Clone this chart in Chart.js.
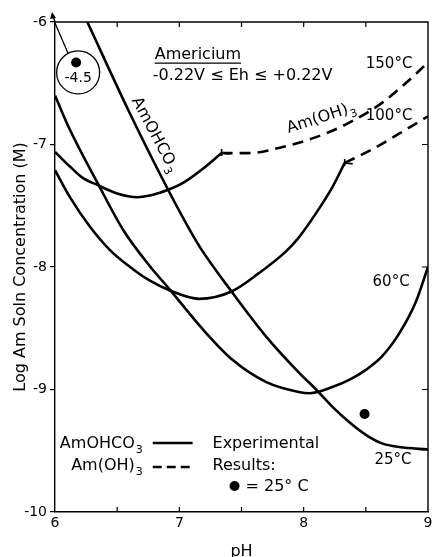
<!DOCTYPE html>
<html>
<head>
<meta charset="utf-8">
<script src="https://cdn.jsdelivr.net/npm/chart.js@4.4.0/dist/chart.umd.min.js"></script>
<style>
  html, body { margin: 0; padding: 0; background: #fff; }
  #wrap { width: 433px; height: 557px; }
</style>
</head>
<body>
<div id="wrap"><canvas id="chart" width="433" height="557"></canvas></div>
<script>
// AmOHCO3 solubility curves (solid), pH vs log Am concentration
const ph25 = [6.26, 6.59, 6.92, 7.08, 7.18, 7.42, 7.70, 7.96, 8.10, 8.23, 8.37, 8.50, 8.63, 8.77, 9.0];
const logAm25 = [-6.0, -6.72, -7.39, -7.69, -7.86, -8.20, -8.57, -8.86, -9.0, -9.14, -9.27, -9.37, -9.44, -9.47, -9.49];

const ph60 = [6.0, 6.12, 6.34, 6.55, 6.76, 6.92, 7.19, 7.43, 7.70, 7.96, 8.05, 8.23, 8.37, 8.50, 8.63, 8.77, 8.90, 9.0];
const logAm60 = [-6.60, -6.88, -7.31, -7.70, -7.99, -8.18, -8.51, -8.76, -8.94, -9.02, -9.03, -8.98, -8.92, -8.84, -8.73, -8.54, -8.29, -8.0];

const ph100 = [6.0, 6.12, 6.28, 6.44, 6.63, 6.76, 6.92, 7.16, 7.42, 7.64, 7.86, 7.96, 8.10, 8.23, 8.33];
const logAm100 = [-7.21, -7.43, -7.67, -7.86, -8.02, -8.11, -8.19, -8.26, -8.20, -8.05, -7.87, -7.76, -7.56, -7.35, -7.15];

const ph150 = [6.0, 6.12, 6.22, 6.34, 6.50, 6.66, 6.79, 6.91, 7.0, 7.08, 7.20, 7.34];
const logAm150 = [-7.06, -7.18, -7.27, -7.33, -7.40, -7.43, -7.41, -7.37, -7.33, -7.28, -7.19, -7.07];

// Am(OH)3 continuations (dashed)
const ph100oh = [8.33, 8.55, 8.77, 9.0];
const logAm100oh = [-7.15, -7.04, -6.91, -6.77];
const ph150oh = [7.34, 7.56, 7.83, 8.10, 8.37, 8.63, 8.82, 9.0];
const logAm150oh = [-7.07, -7.07, -7.02, -6.94, -6.82, -6.66, -6.50, -6.33];

// experimental results at 25°C (second one is off scale, true value -4.5)
const expPH = [8.49, 6.17];
const expLogAm = [-9.20, -6.33];
const offScaleLabel = '-4.5';

const xTicks = [6, 7, 8, 9];
const yTicks = [-10, -9, -8, -7, -6];

const FONT = "'DejaVu Sans', sans-serif";
Chart.defaults.font.family = FONT;
Chart.defaults.color = '#000';

const pts = (xs, ys) => xs.map((v, i) => ({ x: v, y: ys[i] }));

function curve(xs, ys, dashed) {
  return {
    data: pts(xs, ys),
    borderColor: '#000',
    borderWidth: 2.6,
    borderDash: dashed ? [11, 7] : [],
    pointRadius: 0,
    cubicInterpolationMode: 'monotone',
    fill: false
  };
}

// text with a lowered "3"
function subText(ctx, main, sub, x, y, align, size) {
  ctx.font = size + 'px ' + FONT;
  const w1 = ctx.measureText(main).width;
  const subSize = Math.round(size * 0.7);
  ctx.font = subSize + 'px ' + FONT;
  const w2 = ctx.measureText(sub).width;
  const total = w1 + w2 + 1;
  let x0 = x;
  if (align === 'right') x0 = x - total;
  else if (align === 'center') x0 = x - total / 2;
  ctx.textAlign = 'left';
  ctx.textBaseline = 'middle';
  ctx.font = size + 'px ' + FONT;
  ctx.fillText(main, x0, y);
  ctx.font = subSize + 'px ' + FONT;
  ctx.fillText(sub, x0 + w1 + 1, y + size * 0.38);
}

function text(ctx, s, x, y, align, size) {
  ctx.font = size + 'px ' + FONT;
  ctx.textAlign = align;
  ctx.textBaseline = 'middle';
  ctx.fillText(s, x, y);
}

const extras = {
  id: 'extras',
  afterDraw(chart) {
    const { ctx, chartArea: a, scales: { x, y } } = chart;
    const px = v => x.getPixelForValue(v);
    const py = v => y.getPixelForValue(v);
    ctx.save();
    ctx.strokeStyle = '#000';
    ctx.fillStyle = '#000';

    // top and right frame
    ctx.lineWidth = 1.4;
    ctx.beginPath();
    ctx.moveTo(a.left, a.top);
    ctx.lineTo(a.right, a.top);
    ctx.lineTo(a.right, a.bottom);
    ctx.stroke();

    // inner ticks
    ctx.lineWidth = 1.2;
    ctx.beginPath();
    [6.5, 7, 7.5, 8, 8.5].forEach(v => {
      ctx.moveTo(px(v), a.bottom); ctx.lineTo(px(v), a.bottom - 5);
      ctx.moveTo(px(v), a.top); ctx.lineTo(px(v), a.top + 5);
    });
    [-9, -8, -7].forEach(v => {
      ctx.moveTo(a.right, py(v)); ctx.lineTo(a.right - 6, py(v));
    });
    ctx.stroke();

    // small barbs where solid turns to dashed
    ctx.lineWidth = 1.6;
    [[ph150[ph150.length - 1], logAm150[logAm150.length - 1]],
     [ph100[ph100.length - 1], logAm100[logAm100.length - 1]]].forEach(([vx, vy]) => {
      const bx = px(vx), by = py(vy);
      ctx.beginPath();
      ctx.moveTo(bx, by - 4); ctx.lineTo(bx, by + 3);
      ctx.moveTo(bx, by); ctx.lineTo(bx + 8, by + 1);
      ctx.stroke();
    });

    // arrow on top of y axis
    ctx.lineWidth = 1.3;
    ctx.beginPath();
    ctx.moveTo(a.left, a.top);
    ctx.lineTo(a.left - 2, a.top - 6);
    ctx.stroke();
    ctx.beginPath();
    ctx.moveTo(a.left - 3, a.top - 10);
    ctx.lineTo(a.left - 5, a.top - 3);
    ctx.lineTo(a.left + 1, a.top - 4);
    ctx.closePath();
    ctx.fill();

    // circled off-scale point
    const cx = px(expPH[1]) + 2, cy = py(expLogAm[1]) + 10;
    ctx.beginPath();
    ctx.arc(cx, cy, 21.5, 0, Math.PI * 2);
    ctx.stroke();
    ctx.beginPath();
    ctx.moveTo(cx - 10, cy - 19);
    ctx.lineTo(a.left, a.top + 1);
    ctx.stroke();
    text(ctx, offScaleLabel, cx, cy + 6, 'center', 14);

    // titles in the plot
    text(ctx, 'Americium', px(6.802), py(-6.269), 'left', 16);
    const wAm = ctx.measureText('Americium').width;
    ctx.beginPath();
    ctx.moveTo(px(6.802), py(-6.335));
    ctx.lineTo(px(6.802) + wAm, py(-6.335));
    ctx.stroke();
    text(ctx, '-0.22V \u2264 Eh \u2264 +0.22V', px(6.786), py(-6.441), 'left', 16);

    // temperature labels
    text(ctx, '150\u00b0C', px(8.687), py(-6.343), 'center', 15);
    text(ctx, '100\u00b0C', px(8.687), py(-6.767), 'center', 15);
    text(ctx, '60\u00b0C', px(8.703), py(-8.122), 'center', 15);
    text(ctx, '25\u00b0C', px(8.719), py(-9.576), 'center', 15);

    // curve labels along lines
    ctx.save();
    ctx.translate(px(6.802), py(-6.922));
    ctx.rotate(62 * Math.PI / 180);
    subText(ctx, 'AmOHCO', '3', 0, 0, 'center', 16);
    ctx.restore();
    ctx.save();
    ctx.translate(px(8.142), py(-6.784));
    ctx.rotate(-18 * Math.PI / 180);
    subText(ctx, 'Am(OH)', '3', 0, 0, 'center', 16);
    ctx.restore();

    // key
    subText(ctx, 'AmOHCO', '3', px(6.706), py(-9.445), 'right', 16);
    subText(ctx, 'Am(OH)', '3', px(6.706), py(-9.625), 'right', 16);
    ctx.lineWidth = 2.4;
    ctx.beginPath();
    ctx.moveTo(px(6.786), py(-9.437));
    ctx.lineTo(px(7.107), py(-9.437));
    ctx.stroke();
    ctx.setLineDash([9, 5]);
    ctx.beginPath();
    ctx.moveTo(px(6.786), py(-9.633));
    ctx.lineTo(px(7.107), py(-9.633));
    ctx.stroke();
    ctx.setLineDash([]);
    text(ctx, 'Experimental', px(7.267), py(-9.445), 'left', 16);
    text(ctx, 'Results:', px(7.267), py(-9.624), 'left', 16);
    ctx.beginPath();
    ctx.arc(px(7.444), py(-9.788), 5, 0, Math.PI * 2);
    ctx.fill();
    text(ctx, '= 25\u00b0 C', px(7.532), py(-9.796), 'left', 16);

    ctx.restore();
  }
};

new Chart(document.getElementById('chart'), {
  type: 'line',
  data: {
    datasets: [
      curve(ph25, logAm25, false),
      curve(ph60, logAm60, false),
      curve(ph100, logAm100, false),
      curve(ph150, logAm150, false),
      curve(ph100oh, logAm100oh, true),
      curve(ph150oh, logAm150oh, true),
      {
        data: pts(expPH, expLogAm),
        showLine: false,
        pointRadius: 5,
        pointBackgroundColor: '#000',
        pointBorderColor: '#000',
        pointBorderWidth: 0
      }
    ]
  },
  options: {
    responsive: false,
    animation: false,
    layout: { padding: { top: 22, right: 4, left: 0, bottom: 0 } },
    plugins: { legend: { display: false }, tooltip: { enabled: false } },
    scales: {
      x: {
        type: 'linear',
        min: 6,
        max: 9,
        afterBuildTicks: s => { s.ticks = xTicks.map(v => ({ value: v })); },
        ticks: { padding: 3, font: { size: 14 }, color: '#000' },
        grid: { display: false, drawTicks: false },
        border: { display: true, color: '#000', width: 1.4 },
        title: { display: true, text: 'pH', font: { size: 16 }, padding: { top: 0, bottom: -4 } },
        afterFit: s => { s.height = 45; s.paddingLeft = 0; s.paddingRight = 0; }
      },
      y: {
        type: 'linear',
        min: -10,
        max: -6,
        afterBuildTicks: s => { s.ticks = yTicks.map(v => ({ value: v })); },
        ticks: { padding: 3, font: { size: 14 }, color: '#000' },
        grid: { display: true, drawOnChartArea: false, drawTicks: true, tickLength: 5, color: '#000', lineWidth: 1.2 },
        border: { display: true, color: '#000', width: 1.4 },
        title: { display: true, text: 'Log Am Soln Concentration (M)', font: { size: 16 }, padding: { top: 11, bottom: 0 } },
        afterFit: s => { s.width = 55; s.paddingTop = 0; s.paddingBottom = 0; }
      }
    }
  },
  plugins: [extras]
});
</script>
</body>
</html>
